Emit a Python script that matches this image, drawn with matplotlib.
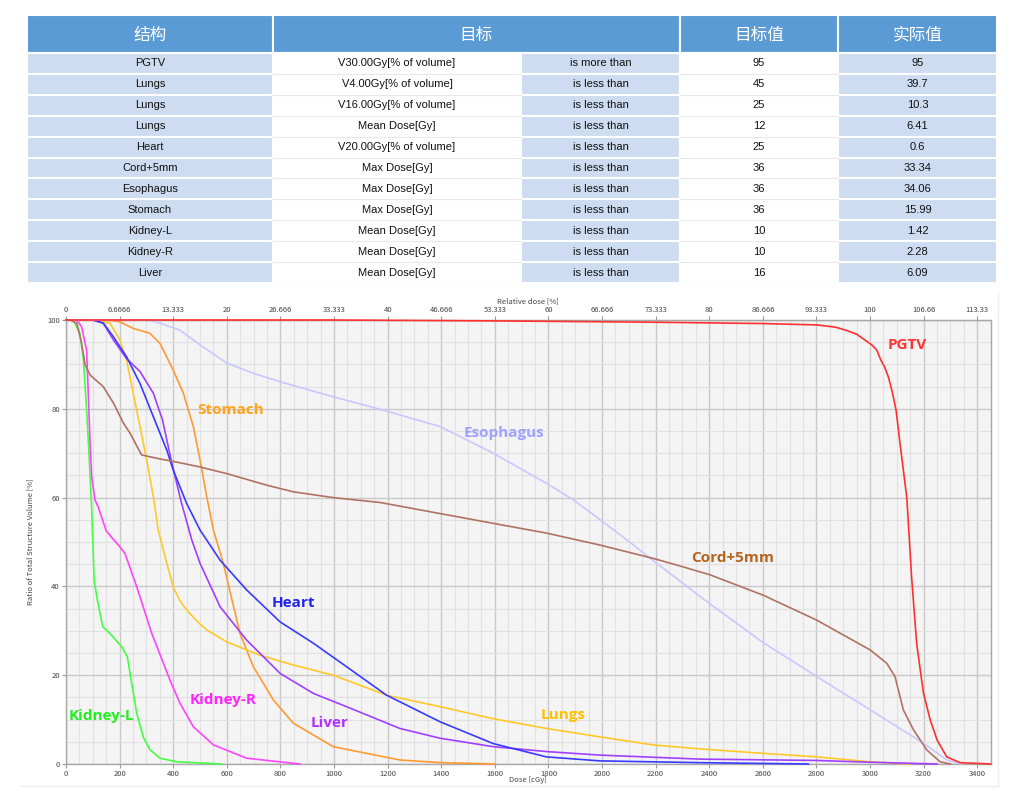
import numpy as np
import matplotlib
matplotlib.use('Agg')
import matplotlib.pyplot as plt
from matplotlib.patches import Rectangle
from matplotlib.ticker import MultipleLocator

plt.rcParams['font.family'] = ['Noto Sans CJK SC', 'DejaVu Sans']

# ---- table data ----
header = ['结构', '目标', '目标值', '实际值']
structures = ['PGTV', 'Lungs', 'Lungs', 'Lungs', 'Heart', 'Cord+5mm', 'Esophagus',
              'Stomach', 'Kidney-L', 'Kidney-R', 'Liver']
objectives = ['V30.00Gy[% of volume]', 'V4.00Gy[% of volume]', 'V16.00Gy[% of volume]',
              'Mean Dose[Gy]', 'V20.00Gy[% of volume]', 'Max Dose[Gy]', 'Max Dose[Gy]',
              'Max Dose[Gy]', 'Mean Dose[Gy]', 'Mean Dose[Gy]', 'Mean Dose[Gy]']
relations = ['is more than'] + ['is less than'] * 10
targets = ['95', '45', '25', '12', '25', '36', '36', '36', '10', '10', '16']
actuals = ['95', '39.7', '10.3', '6.41', '0.6', '33.34', '34.06', '15.99', '1.42', '2.28', '6.09']

# ---- DVH data (dose cGy, volume %) ----
pgtv_x = [0, 1000, 1600, 2200, 2600, 2800, 2870, 2910, 2950, 2990, 3010, 3025, 3040, 3055,
          3068, 3082, 3097, 3112, 3137, 3155, 3174, 3199, 3224, 3250, 3286, 3336, 3450]
pgtv_y = [100, 100, 99.8, 99.5, 99.2, 98.9, 98.4, 97.7, 96.8, 95.1, 94.2, 93.2, 91, 89.3,
          87.2, 84, 79.7, 72, 60, 42, 27, 16, 10, 5.4, 1.6, 0.3, 0]

cord_x = [0, 15, 40, 58, 71, 90, 139, 177, 214, 239, 282, 351, 413, 500, 600, 749, 848, 997,
          1172, 1396, 1594, 1793, 1993, 2191, 2291, 2403, 2602, 2801, 3000, 3062, 3093, 3124,
          3162, 3211, 3261, 3300]
cord_y = [100, 100, 99.3, 94.8, 90, 87.6, 85, 81.3, 76.8, 74.5, 69.6, 68.7, 68, 66.9, 65.4,
          62.8, 61.3, 60, 58.9, 56.4, 54.2, 52, 49.3, 46.3, 44.6, 42.6, 38, 32.4, 25.7, 22.7,
          19.7, 12.2, 7.7, 3.2, 0.5, 0]

eso_x = [0, 300, 351, 425, 500, 600, 699, 799, 997, 1172, 1396, 1594, 1793, 1893, 1993, 2092,
         2191, 2291, 2366, 2602, 2801, 3000, 3199, 3286, 3340]
eso_y = [100, 100, 99.3, 97.7, 94.4, 90.3, 88, 86.1, 82.7, 79.9, 76, 70, 63.2, 59.5, 55, 50.5,
         45.8, 41.2, 37.7, 27.3, 19.7, 12.2, 4.7, 0.9, 0]

stomach_x = [0, 150, 201, 251, 313, 351, 400, 438, 475, 500, 525, 550, 587, 649, 699, 774,
             848, 997, 1246, 1400, 1600]
stomach_y = [100, 100, 99.6, 98.1, 97, 94.7, 88.7, 83.5, 76, 68.5, 60.2, 52.7, 45.2, 29.4,
             21.9, 14.4, 9.2, 3.9, 0.9, 0.3, 0]

heart_x = [0, 101, 139, 177, 226, 276, 326, 376, 400, 450, 500, 575, 674, 799, 923, 1047,
           1196, 1396, 1594, 1793, 1993, 2366, 2770]
heart_y = [100, 100, 99.3, 96.2, 91.7, 85.7, 78.2, 70.7, 66.2, 58.7, 52.7, 45.9, 39.2, 32,
           27.2, 21.9, 15.5, 9.5, 4.6, 1.6, 0.7, 0.3, 0]

liver_x = [0, 101, 139, 177, 226, 276, 326, 360, 394, 430, 469, 500, 575, 674, 799, 923,
           1047, 1246, 1396, 1594, 1793, 1993, 2366, 2800, 3000, 3250]
liver_y = [100, 100, 99.3, 95.5, 91.3, 88.4, 83.5, 77.5, 68, 59, 50.5, 45.2, 35.4, 27.9,
           20.4, 15.9, 12.9, 8, 5.8, 3.9, 2.8, 2.0, 1.1, 0.8, 0.4, 0]

lungs_x = [0, 110, 164, 201, 226, 251, 276, 301, 326, 344, 376, 400, 425, 450, 490, 525, 600,
           724, 848, 997, 1196, 1396, 1594, 1793, 1993, 2191, 2366, 2602, 2801, 3000, 3150]
lungs_y = [100, 100, 99.3, 95.5, 91, 83.5, 76, 68.5, 60.2, 52.7, 45.2, 39.9, 36.8, 34.7, 32.1,
           30.2, 27.5, 24.5, 22.3, 20, 15.5, 12.9, 10.2, 8, 6.1, 4.3, 3.4, 2.4, 1.6, 0.5, 0]

kidr_x = [0, 40, 58, 77, 83, 90, 96, 108, 120, 150, 201, 220, 264, 320, 388, 425, 475, 550,
          674, 873]
kidr_y = [100, 100, 98.5, 93.2, 83.5, 72.2, 64.7, 59.5, 57.9, 52.5, 48.9, 47.4, 39.9, 29.4,
          18.9, 13.7, 8.4, 4.3, 1.3, 0]

kidl_x = [0, 27, 52, 65, 77, 87, 96, 105, 117, 137, 164, 208, 229, 243, 264, 288, 313, 351,
          413, 580]
kidl_y = [100, 100, 97, 91, 79.7, 68.5, 57.2, 41.4, 36.9, 30.9, 29.4, 26.4, 24.1, 18.9, 11.4,
          6.1, 3.2, 1.3, 0.5, 0]

dose_ticks = list(range(0, 3401, 200))
rel_labels = ['0', '6.6666', '13.333', '20', '26.666', '33.333', '40', '46.666', '53.333',
              '60', '66.666', '73.333', '80', '86.666', '93.333', '100', '106.66', '113.33']

fig = plt.figure(figsize=(10.3, 7.97), dpi=100)

# ---------------- table ----------------
W, H = 970, 268
ta = fig.add_axes([27 / 1030, 1 - 283 / 797, W / 1030, H / 797])
ta.set_xlim(0, W)
ta.set_ylim(H, 0)
ta.axis('off')

col_edges = [0, 246, 494, 653, 811, 970]
head_h = 38
row_h = (H - head_h) / len(structures)
blue = '#5b9bd5'
light = '#cddcf0'

# header
head_spans = [(0, 1), (1, 3), (3, 4), (4, 5)]
for txt, (a, b) in zip(header, head_spans):
    x0, x1 = col_edges[a], col_edges[b]
    ta.add_patch(Rectangle((x0, 0), x1 - x0, head_h, facecolor=blue, edgecolor='white', lw=1.5))
    ta.text((x0 + x1) / 2, head_h / 2 + 1, txt, ha='center', va='center', color='white',
            fontsize=12)

cols = [structures, objectives, relations, targets, actuals]
fills = [light, 'white', light, 'white', light]
for i in range(len(structures)):
    y0 = head_h + i * row_h
    for j, col in enumerate(cols):
        x0, x1 = col_edges[j], col_edges[j + 1]
        ta.add_patch(Rectangle((x0, y0), x1 - x0, row_h, facecolor=fills[j], edgecolor='white',
                               lw=1.5))
        if fills[j] == 'white':
            ta.plot([x0, x1], [y0 + row_h, y0 + row_h], color='#e8e8e8', lw=0.8)
        ta.text((x0 + x1) / 2, y0 + row_h / 2, col[i], ha='center', va='center',
                fontsize=8, color='#111111', family='Liberation Sans')

# ---------------- DVH chart ----------------
ax = fig.add_axes([66 / 1030, 1 - 764 / 797, 924.7 / 1030, 444 / 797])
ax.set_facecolor('#f4f4f4')

curves = [
    (stomach_x, stomach_y, '#ff9a33'),
    (kidl_x, kidl_y, '#44ff44'),
    (kidr_x, kidr_y, '#ff44ff'),
    (lungs_x, lungs_y, '#ffc82a'),
    (liver_x, liver_y, '#a040ff'),
    (heart_x, heart_y, '#3a3aff'),
    (eso_x, eso_y, '#c8c8ff'),
    (cord_x, cord_y, '#b07262'),
    (pgtv_x, pgtv_y, '#ff3030'),
]
for xs, ys, c in curves:
    ax.plot(xs, ys, color=c, lw=1.2, clip_on=False, zorder=3, solid_joinstyle='round')

labels = [
    ('PGTV', 3137, 94.4, '#ff3333'),
    ('Cord+5mm', 2488, 46.5, '#b5651d'),
    ('Esophagus', 1634, 74.6, '#a0a0ff'),
    ('Stomach', 614, 79.7, '#ffa31a'),
    ('Heart', 848, 36.3, '#2222ee'),
    ('Kidney-R', 585, 14.4, '#ff22ff'),
    ('Kidney-L', 133, 10.7, '#22ee22'),
    ('Liver', 985, 9.2, '#b030ff'),
    ('Lungs', 1853, 11.0, '#ffc000'),
]
for txt, x, y, c in labels:
    ax.text(x, y, txt, color=c, fontsize=11, fontweight='bold', family='Open Sans',
            ha='center', va='center', zorder=4)

ax.set_xlim(0, 3450)
ax.set_ylim(0, 100)
ax.set_xticks(dose_ticks)
ax.set_yticks(range(0, 101, 20))
ax.xaxis.set_minor_locator(MultipleLocator(50))
ax.yaxis.set_minor_locator(MultipleLocator(5))
ax.grid(which='major', color='#c9c9c9', lw=1.0, zorder=0)
ax.grid(which='minor', color='#e1e1e1', lw=0.8, zorder=0)
ax.set_axisbelow(True)
ax.tick_params(which='major', labelsize=5.5, colors='#999999', labelcolor='#444444',
               length=3, width=0.8, pad=1.5)
ax.tick_params(which='minor', length=0)
for s in ax.spines.values():
    s.set_color('#a8a8a8')
    s.set_linewidth(1)

top = ax.secondary_xaxis('top')
top.set_xticks(dose_ticks, rel_labels)
top.tick_params(labelsize=5.5, colors='#999999', labelcolor='#444444', length=3, width=0.8,
                pad=1.0)
top.spines['top'].set_color('#a8a8a8')

ax.text(0.5, -0.037, 'Dose [cGy]', transform=ax.transAxes, ha='center', va='center',
        fontsize=5.5, color='#444444')
ax.text(0.5, 1.041, 'Relative dose [%]', transform=ax.transAxes, ha='center', va='center',
        fontsize=5.5, color='#444444')
ax.text(-0.039, 0.5, 'Ratio of Total Structure Volume [%]', transform=ax.transAxes,
        ha='center', va='center', rotation=90, fontsize=5.5, color='#444444')

# faint widget border
fig.add_artist(plt.Line2D([20 / 1030, 998 / 1030], [1 - 786 / 797, 1 - 786 / 797],
                          color='#eeeeee', lw=1))
fig.add_artist(plt.Line2D([998 / 1030, 998 / 1030], [1 - 786 / 797, 1 - 292 / 797],
                          color='#eeeeee', lw=1))

fig.savefig('out.png', dpi=100, facecolor='white')
